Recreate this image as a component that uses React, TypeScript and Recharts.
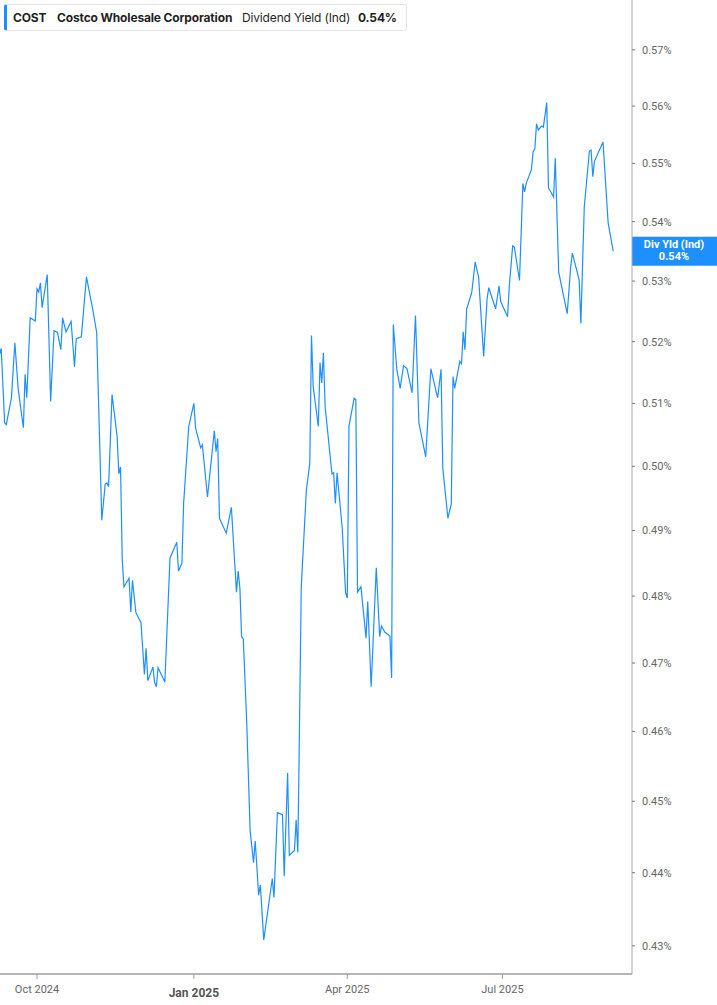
import { Line, LineChart, ReferenceLine, XAxis, YAxis } from "recharts";

const DATES = [
  "2024-09-09", "2024-09-10", "2024-09-12", "2024-09-13", "2024-09-16", "2024-09-18", "2024-09-20", "2024-09-23", "2024-09-24", "2024-09-25",
  "2024-09-27", "2024-09-30", "2024-10-01", "2024-10-02", "2024-10-03", "2024-10-04", "2024-10-07", "2024-10-09", "2024-10-11", "2024-10-13",
  "2024-10-15", "2024-10-16", "2024-10-18", "2024-10-21", "2024-10-23", "2024-10-24", "2024-10-27", "2024-10-30", "2024-11-03", "2024-11-05",
  "2024-11-08", "2024-11-10", "2024-11-11", "2024-11-12", "2024-11-14", "2024-11-17", "2024-11-18", "2024-11-19", "2024-11-20", "2024-11-21",
  "2024-11-24", "2024-11-25", "2024-11-26", "2024-11-28", "2024-12-01", "2024-12-03", "2024-12-04", "2024-12-05", "2024-12-08", "2024-12-09",
  "2024-12-10", "2024-12-11", "2024-12-15", "2024-12-18", "2024-12-22", "2024-12-23", "2024-12-25", "2024-12-26", "2024-12-29", "2025-01-01",
  "2025-01-02", "2025-01-05", "2025-01-06", "2025-01-09", "2025-01-13", "2025-01-14", "2025-01-15", "2025-01-16", "2025-01-20", "2025-01-23",
  "2025-01-26", "2025-01-27", "2025-01-28", "2025-01-29", "2025-01-30", "2025-02-01", "2025-02-03", "2025-02-05", "2025-02-06", "2025-02-08",
  "2025-02-09", "2025-02-11", "2025-02-16", "2025-02-17", "2025-02-19", "2025-02-22", "2025-02-23", "2025-02-25", "2025-02-26", "2025-03-01",
  "2025-03-02", "2025-03-03", "2025-03-05", "2025-03-08", "2025-03-10", "2025-03-11", "2025-03-12", "2025-03-15", "2025-03-16", "2025-03-17",
  "2025-03-18", "2025-03-19", "2025-03-23", "2025-03-24", "2025-03-25", "2025-03-26", "2025-03-29", "2025-03-31", "2025-04-01", "2025-04-02",
  "2025-04-05", "2025-04-06", "2025-04-07", "2025-04-09", "2025-04-12", "2025-04-13", "2025-04-15", "2025-04-18", "2025-04-20", "2025-04-21",
  "2025-04-23", "2025-04-26", "2025-04-27", "2025-04-28", "2025-04-30", "2025-05-02", "2025-05-04", "2025-05-06", "2025-05-09", "2025-05-11",
  "2025-05-13", "2025-05-17", "2025-05-20", "2025-05-24", "2025-05-26", "2025-05-27", "2025-05-30", "2025-06-01", "2025-06-02", "2025-06-03",
  "2025-06-06", "2025-06-07", "2025-06-08", "2025-06-09", "2025-06-10", "2025-06-13", "2025-06-15", "2025-06-17", "2025-06-20", "2025-06-22",
  "2025-06-23", "2025-06-27", "2025-06-29", "2025-06-30", "2025-07-04", "2025-07-05", "2025-07-07", "2025-07-08", "2025-07-11", "2025-07-13",
  "2025-07-14", "2025-07-15", "2025-07-18", "2025-07-19", "2025-07-20", "2025-07-21", "2025-07-22", "2025-07-24", "2025-07-25", "2025-07-27",
  "2025-07-28", "2025-07-31", "2025-08-01", "2025-08-03", "2025-08-08", "2025-08-10", "2025-08-11", "2025-08-15", "2025-08-16", "2025-08-18",
  "2025-08-21", "2025-08-22", "2025-08-23", "2025-08-24", "2025-08-29", "2025-09-01", "2025-09-04",
];

// dividend yield in %
const YIELDS = [
  0.5179, 0.5189, 0.5069, 0.5066, 0.5109, 0.5198, 0.5122, 0.5061, 0.5147, 0.5109,
  0.5239, 0.5234, 0.5287, 0.5282, 0.5297, 0.5256, 0.5311, 0.5103, 0.5218, 0.5215,
  0.5187, 0.5239, 0.5216, 0.5233, 0.5159, 0.5205, 0.5208, 0.5307, 0.5248, 0.5215,
  0.4916, 0.4972, 0.4974, 0.4968, 0.5114, 0.5047, 0.4988, 0.4999, 0.4855, 0.4814,
  0.4827, 0.4776, 0.4824, 0.4775, 0.476, 0.4683, 0.4722, 0.4674, 0.4694, 0.4671,
  0.4665, 0.4693, 0.4672, 0.4858, 0.4882, 0.4838, 0.485, 0.4942, 0.5063, 0.51,
  0.5061, 0.5029, 0.5034, 0.4952, 0.5056, 0.5023, 0.5044, 0.4919, 0.4896, 0.4936,
  0.4806, 0.4838, 0.4812, 0.4739, 0.4736, 0.4614, 0.4459, 0.4414, 0.4444, 0.4369,
  0.4383, 0.4308, 0.4392, 0.4366, 0.4484, 0.4481, 0.4395, 0.454, 0.4424, 0.4431,
  0.4474, 0.4428, 0.4814, 0.4963, 0.5005, 0.521, 0.5127, 0.5063, 0.5166, 0.5133,
  0.5182, 0.5095, 0.4988, 0.499, 0.4942, 0.499, 0.4905, 0.4805, 0.4797, 0.5064,
  0.5108, 0.5106, 0.4806, 0.4814, 0.4737, 0.4792, 0.4665, 0.4843, 0.4739, 0.4755,
  0.4746, 0.474, 0.4678, 0.5228, 0.5156, 0.5124, 0.5161, 0.5156, 0.5117, 0.5243,
  0.5069, 0.5015, 0.5156, 0.5109, 0.5155, 0.4998, 0.4919, 0.4941, 0.5143, 0.5124,
  0.5168, 0.5164, 0.5216, 0.5187, 0.5253, 0.5281, 0.5332, 0.5307, 0.5176, 0.5271,
  0.5289, 0.5254, 0.5292, 0.5266, 0.5241, 0.5291, 0.5359, 0.5357, 0.5301, 0.5465,
  0.5451, 0.5466, 0.5489, 0.552, 0.5525, 0.5569, 0.5558, 0.5565, 0.5563, 0.5606,
  0.5458, 0.5442, 0.5509, 0.5315, 0.5246, 0.5322, 0.5347, 0.5302, 0.523, 0.5425,
  0.5521, 0.5523, 0.5477, 0.5504, 0.5537, 0.5398, 0.535,
];

const X_TICKS = ["2024-10-01", "2025-01-01", "2025-04-01", "2025-07-01"];
const X_TICK_LABELS = ["Oct 2024", "Jan 2025", "Apr 2025", "Jul 2025"];
const Y_TICKS = [0.43, 0.44, 0.45, 0.46, 0.47, 0.48, 0.49, 0.5, 0.51, 0.52, 0.53, 0.54, 0.55, 0.56, 0.57];

const BLUE = "#1e8fff";
const FONT = "Roboto, 'Noto Sans', sans-serif";

const data = DATES.map((d, i) => ({ t: Date.parse(d), v: YIELDS[i] }));
const xTicks = X_TICKS.map((d) => Date.parse(d));
const last = YIELDS[YIELDS.length - 1];

function DateTick({ x, y, payload }: any) {
  const i = xTicks.indexOf(payload.value);
  const label = X_TICK_LABELS[i] ?? "";
  const major = label.startsWith("Jan");
  return (
    <text
      x={x}
      y={y}
      dy={major ? 14 : 10}
      textAnchor="middle"
      fontFamily={FONT}
      fontSize={major ? 12 : 11}
      fontWeight={major ? 700 : 400}
      fill={major ? "#555" : "#666"}
    >
      {label}
    </text>
  );
}

function LastTag({ viewBox }: any) {
  if (!viewBox) return null;
  const x = viewBox.x + viewBox.width;
  const y = viewBox.y;
  return (
    <g>
      <rect x={x} y={y - 14.5} width={85} height={29} fill={BLUE} />
      <text x={x + 42} y={y - 3} textAnchor="middle" fill="#fff" fontFamily={FONT} fontSize={11} fontWeight={700}>
        Div Yld (Ind)
      </text>
      <text x={x + 42} y={y + 9} textAnchor="middle" fill="#fff" fontFamily={FONT} fontSize={11} fontWeight={700}>
        {last.toFixed(2)}%
      </text>
    </g>
  );
}

export default function App() {
  return (
    <div style={{ position: "absolute", left: 0, top: 0, width: 717, height: 1005, background: "#fff" }}>
      <LineChart width={717} height={1005} data={data} margin={{ top: 0, right: 0, bottom: 0, left: 0 }}>
        <XAxis
          dataKey="t"
          type="number"
          domain={[Date.UTC(2024, 8, 9, 7), Date.UTC(2025, 8, 15)]}
          allowDataOverflow
          ticks={xTicks}
          interval={0}
          tick={<DateTick />}
          height={31}
          tickSize={5}
          tickMargin={4}
          axisLine={{ stroke: "#b5b5b5", strokeWidth: 2 }}
          tickLine={{ stroke: "#a0a0a0" }}
        />
        <YAxis
          orientation="right"
          scale="log"
          type="number"
          domain={[0.4262, 0.579]}
          allowDataOverflow
          ticks={Y_TICKS}
          interval={0}
          tickFormatter={(v: number) => `${v.toFixed(2)}%`}
          width={85}
          tickSize={3}
          tickMargin={7}
          tick={{ fill: "#666", fontSize: 11, fontFamily: FONT }}
          axisLine={{ stroke: "#aaa" }}
          tickLine={{ stroke: "#777" }}
        />
        <ReferenceLine y={last} stroke="none" label={<LastTag />} />
        <Line
          dataKey="v"
          type="linear"
          stroke={BLUE}
          strokeWidth={1.2}
          dot={false}
          isAnimationActive={false}
        />
      </LineChart>
      <div
        style={{
          position: "absolute",
          left: 4,
          top: 4,
          width: 403,
          height: 27,
          boxSizing: "border-box",
          border: "1px solid #e6e6e6",
          borderLeft: `3px solid ${BLUE}`,
          borderRadius: 3,
          background: "#fff",
          fontFamily: "Inter, 'Noto Sans', sans-serif",
          fontSize: 12,
          letterSpacing: -0.15,
          color: "#1f1f1f",
        }}
      >
        <span style={{ position: "absolute", left: 6, top: 5, fontWeight: 700 }}>COST</span>
        <span style={{ position: "absolute", left: 50, top: 5, fontWeight: 700 }}>Costco Wholesale Corporation</span>
        <span style={{ position: "absolute", left: 235, top: 5, fontWeight: 400 }}>Dividend Yield (Ind)</span>
        <span style={{ position: "absolute", left: 351, top: 5, fontWeight: 700 }}>{last.toFixed(2)}%</span>
      </div>
    </div>
  );
}
